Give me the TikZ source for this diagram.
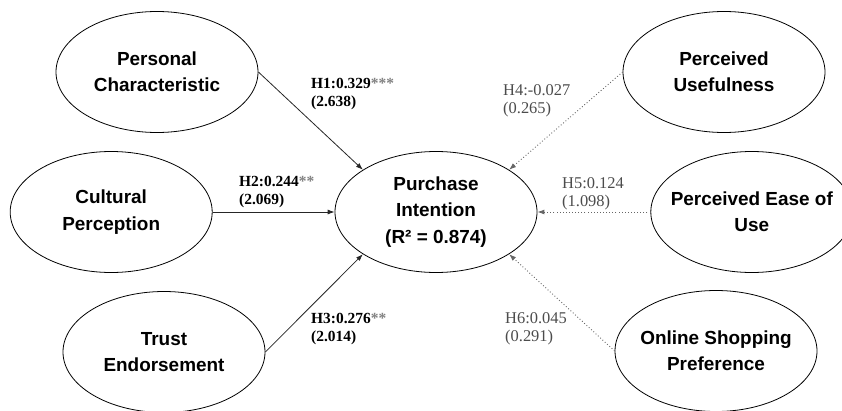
\documentclass[tikz,border=0pt]{standalone}
\usepackage{fontspec}
\setmainfont{Liberation Serif}
\setsansfont{Liberation Sans}
\usepackage{xcolor}
\usetikzlibrary{shapes.geometric,arrows.meta,positioning}

\newcommand{\starmark}[1]{\textcolor{gray}{#1}}

\begin{document}
\begin{tikzpicture}[
    x=1bp, y=1bp,
    latent/.style={ellipse, draw, line width=0.8bp, minimum width=202bp, minimum height=121bp, inner xsep=-25bp, inner ysep=0pt, align=center, font=\sffamily\bfseries\fontsize{19}{26.5}\selectfont},
    sig/.style={anchor=west, align=left, inner sep=0pt, font=\bfseries\fontsize{15.5}{19}\selectfont},
    nonsig/.style={anchor=west, align=left, inner sep=0pt, text=black!70, font=\fontsize{16.5}{18.5}\selectfont},
    path/.style={line width=0.8bp, draw=black!85, -{Latex[length=7bp,width=5bp]}},
    weak/.style={line width=0.9bp, draw=black!60, dash pattern=on 0.9bp off 2.2bp, -{Latex[length=7bp,width=5bp]}}
]
    \useasboundingbox (0,0) rectangle (842,410);

    \node[latent] (pi) at (436,198) {Purchase\\Intention\\(R² = 0.874)};
    \node[latent, left=122bp of pi] (cp) {Cultural\\Perception};
    \node[latent, right=113bp of pi] (pe) {Perceived Ease of\\Use};
    \node[latent] (pc) at (157,338) {Personal\\Characteristic};
    \node[latent] (te) at (164,58) {Trust\\Endorsement};
    \node[latent] (pu) at (724,338) {Perceived\\Usefulness};
    \node[latent] (os) at (716,59) {Online Shopping\\Preference};

    \node[sig] (h1) at (311,316) {H1:0.329\starmark{***}\\(2.638)};
    \node[sig] (h2) at (239,218) {H2:0.244\starmark{**}\\(2.069)};
    \node[sig] (h3) at (311,81) {H3:0.276\starmark{**}\\(2.014)};
    \node[nonsig] (h4) at (503,309) {H4:-0.027\\(0.265)};
    \node[nonsig] (h5) at (562,216) {H5:0.124\\(1.098)};
    \node[nonsig] (h6) at (505,81) {H6:0.045\\(0.291)};

    \draw[path] (pc.east) -- (pi.150);
    \draw[path] (cp) -- (pi);
    \draw[path] (te.east) -- (pi.210);
    \draw[weak] (pu.west) -- (pi.30);
    \draw[weak] (pe) -- (pi);
    \draw[weak] (os.west) -- (pi.330);
\end{tikzpicture}
\end{document}
